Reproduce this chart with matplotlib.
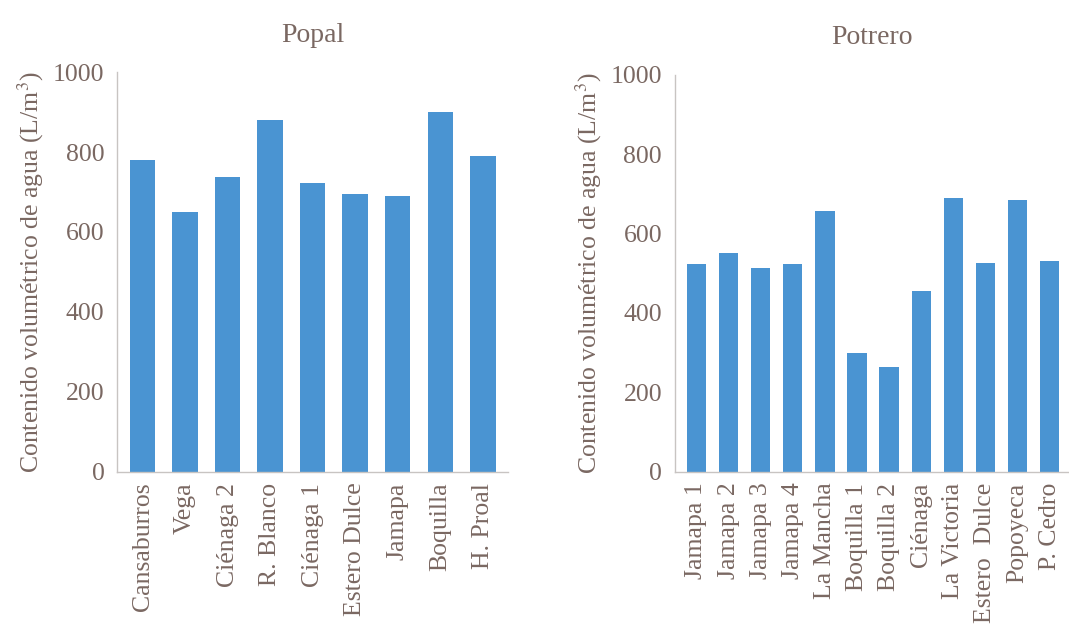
import matplotlib
matplotlib.use("Agg")
import matplotlib.pyplot as plt

popal_sites = ["Cansaburros", "Vega", "Ciénaga 2", "R. Blanco", "Ciénaga 1",
               "Estero Dulce", "Jamapa", "Boquilla", "H. Proal"]
popal_values = [779, 651, 738, 881, 723, 694, 689, 900, 790]

potrero_sites = ["Jamapa 1", "Jamapa 2", "Jamapa 3", "Jamapa 4", "La Mancha",
                 "Boquilla 1", "Boquilla 2", "Ciénaga", "La Victoria",
                 "Estero  Dulce", "Popoyeca", "P. Cedro"]
potrero_values = [522, 551, 512, 522, 657, 300, 264, 454, 689, 526, 685, 531]

yticks = [0, 200, 400, 600, 800, 1000]
ylabel = "Contenido volumétrico de agua (L/m$^3$)"

txt = "#7a6862"
bar_c = "#4a94d2"
plt.rcParams["font.family"] = ["Liberation Serif", "DejaVu Serif"]
plt.rcParams["mathtext.fontset"] = "stix"

fig = plt.figure(figsize=(10.69, 6.28), dpi=100)
ax1 = fig.add_axes([0.1095, 0.249, 0.366, 0.636])
ax2 = fig.add_axes([0.631, 0.249, 0.369, 0.632])

for ax, sites, vals, title, xl in [
    (ax1, popal_sites, popal_values, "Popal", (-0.6, 8.6)),
    (ax2, potrero_sites, potrero_values, "Potrero", (-0.68, 11.6)),
]:
    x = list(range(len(sites)))
    ax.bar(x, vals, width=0.6, color=bar_c)
    ax.set_xlim(*xl)
    ax.set_ylim(0, 1000)
    ax.set_yticks(yticks)
    ax.set_xticks(x)
    ax.set_xticklabels(sites, rotation=90, fontsize=18.5, color=txt)
    ax.tick_params(axis="y", labelsize=18.5, labelcolor=txt, length=0, pad=9)
    ax.tick_params(axis="x", length=0, pad=8)
    for s in ["top", "right"]:
        ax.spines[s].set_visible(False)
    for s in ["left", "bottom"]:
        ax.spines[s].set_color("#c8c4c2")
        ax.spines[s].set_linewidth(1.0)
    ax.set_ylabel(ylabel, fontsize=18.5, color=txt, labelpad=5)
    ax.set_title(title, fontsize=20, color=txt, pad=22)

fig.savefig("out.png", dpi=100, facecolor="white")
